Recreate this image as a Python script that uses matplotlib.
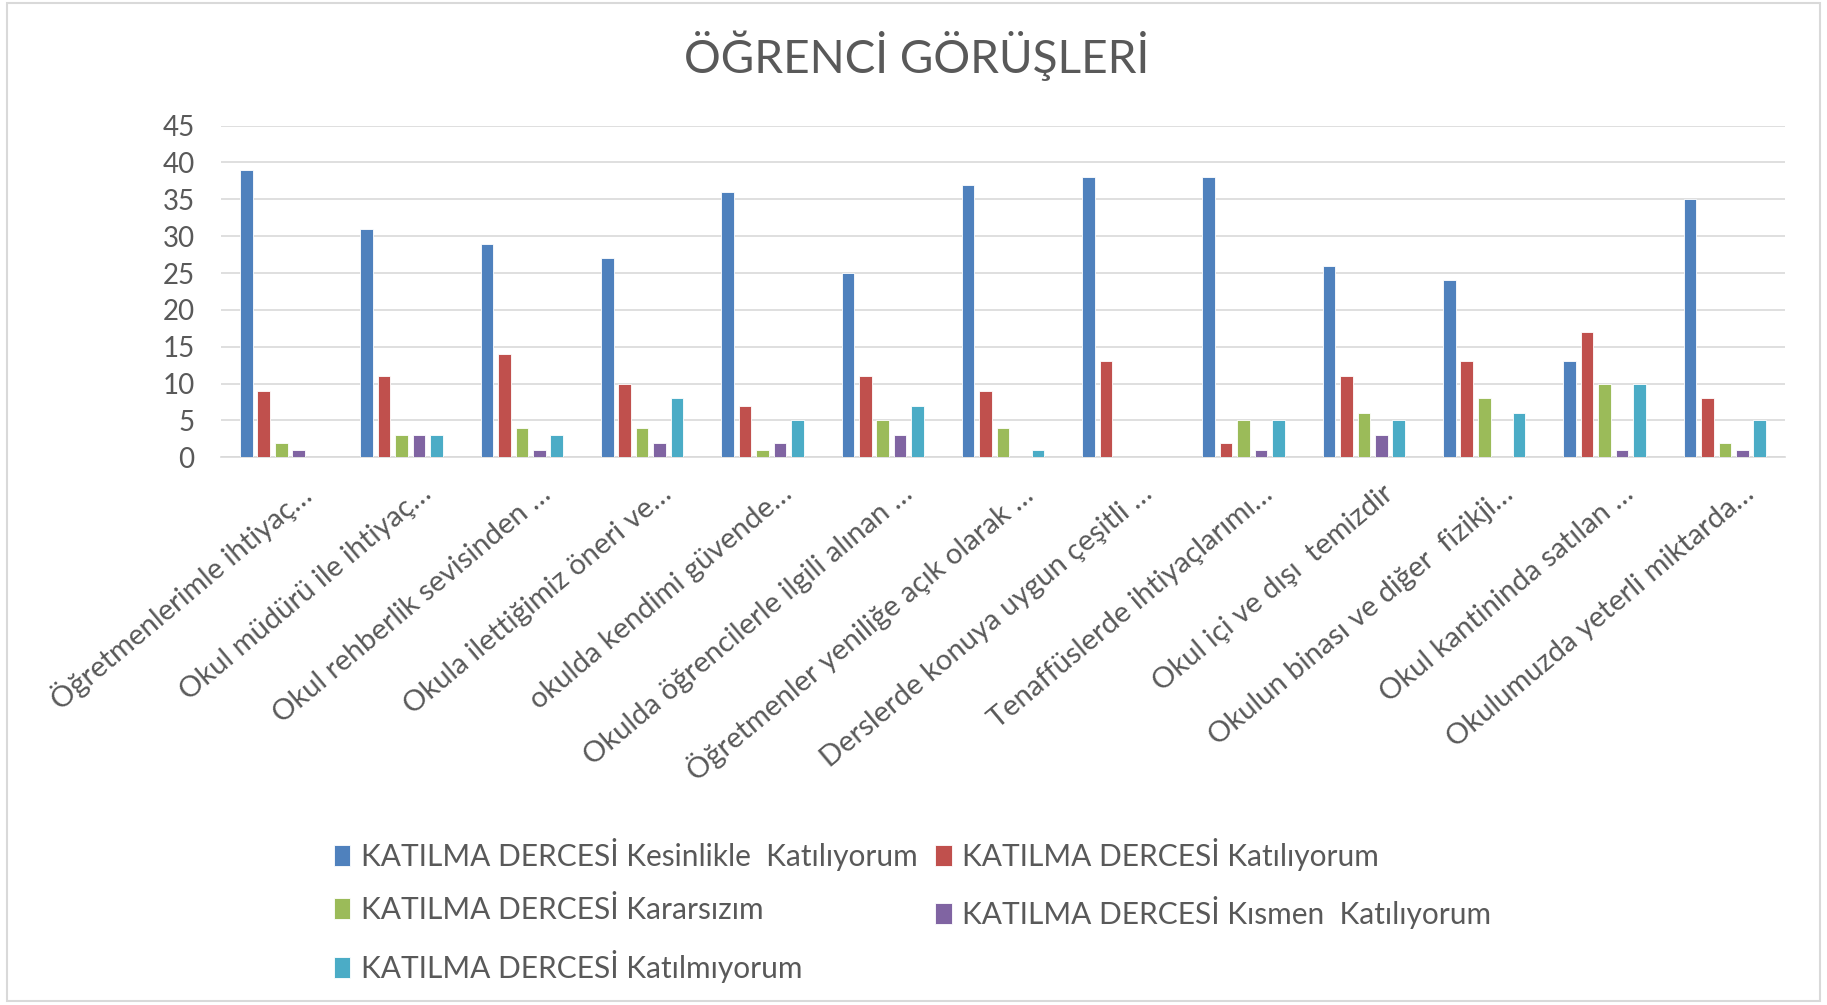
import numpy as np
import matplotlib
matplotlib.use("Agg")
import matplotlib.pyplot as plt
import matplotlib.transforms as mtransforms
from matplotlib.patches import Rectangle

plt.rcParams['font.family'] = ['Lato', 'DejaVu Sans']

# veriler
kategoriler = [
    "Öğretmenlerimle ihtiyaç…",
    "Okul müdürü ile ihtiyaç…",
    "Okul rehberlik sevisinden …",
    "Okula ilettiğimiz öneri ve…",
    "okulda kendimi güvende…",
    "Okulda öğrencilerle ilgili alınan …",
    "Öğretmenler yeniliğe açık olarak …",
    "Derslerde konuya uygun çeşitli …",
    "Tenaffüslerde ihtiyaçlarımı…",
    "Okul içi ve dışı  temizdir",
    "Okulun binası ve diğer  fizikji…",
    "Okul kantininda satılan …",
    "Okulumuzda yeterli miktarda…",
]
seri_adlari = [
    "KATILMA DERCESİ Kesinlikle  Katılıyorum",
    "KATILMA DERCESİ Katılıyorum",
    "KATILMA DERCESİ Kararsızım",
    "KATILMA DERCESİ Kısmen  Katılıyorum",
    "KATILMA DERCESİ Katılmıyorum",
]
kesinlikle = [39, 31, 29, 27, 36, 25, 37, 38, 38, 26, 24, 13, 35]
katiliyorum = [9, 11, 14, 10, 7, 11, 9, 13, 2, 11, 13, 17, 8]
kararsizim = [2, 3, 4, 4, 1, 5, 4, 0, 5, 6, 8, 10, 2]
kismen = [1, 3, 1, 2, 2, 3, 0, 0, 1, 3, 0, 1, 1]
katilmiyorum = [0, 3, 3, 8, 5, 7, 1, 0, 5, 5, 6, 10, 5]
seriler = [kesinlikle, katiliyorum, kararsizim, kismen, katilmiyorum]
renkler = ['#4F81BD', '#C0504D', '#9BBB59', '#8064A2', '#4BACC6']
yazi_rengi = '#595959'

fig = plt.figure(figsize=(18.27, 10.05), dpi=100)
ax = fig.add_axes([0.121, 0.545, 0.856, 0.330])

x = np.arange(len(kategoriler))
adim = 0.145
genislik = 0.105
cubuklar = []
for i, (deger, renk) in enumerate(zip(seriler, renkler)):
    b = ax.bar(x + (i - 2) * adim, deger, genislik, color=renk,
               edgecolor='white', linewidth=0.6, label=seri_adlari[i], zorder=3)
    cubuklar.append(b)

ax.set_xlim(-0.5, len(kategoriler) - 0.5)
ax.set_ylim(0, 45)
ax.set_yticks(range(0, 46, 5))
ax.yaxis.grid(True, color='#D9D9D9', linewidth=1.2, zorder=0)
ax.tick_params(axis='y', length=0, labelsize=20, labelcolor=yazi_rengi, pad=19)
ax.tick_params(axis='x', length=0, pad=0)
for s in ['top', 'right', 'left']:
    ax.spines[s].set_visible(False)
ax.spines['bottom'].set_color('#D9D9D9')
ax.spines['bottom'].set_linewidth(1.2)

ax.set_xticks(x)
ax.set_xticklabels(kategoriler, rotation=40, ha='right', va='center',
                   rotation_mode='anchor', fontsize=21, color=yazi_rengi)
kaydir = mtransforms.ScaledTranslation(0.26, 0.0, fig.dpi_scale_trans)
for lbl in ax.get_xticklabels():
    lbl.set_y(-0.10)
    lbl.set_transform(lbl.get_transform() + kaydir)

fig.text(0.502, 0.945, "ÖĞRENCİ GÖRÜŞLERİ", ha='center', va='center',
         fontsize=33, color=yazi_rengi)

# lejant: satir satir sirala
sira = [0, 2, 4, 1, 3]
leg = fig.legend([cubuklar[i] for i in sira], [seri_adlari[i] for i in sira],
                 ncol=2, loc='upper left', bbox_to_anchor=(0.168, 0.193),
                 frameon=False, fontsize=21.5, handlelength=0.55, handleheight=0.7,
                 handletextpad=0.35, columnspacing=0.6, labelspacing=0.85)
for t in leg.get_texts():
    t.set_color(yazi_rengi)

# cerceve
fig.patches.append(Rectangle((0.004, 0.004), 0.992, 0.993, transform=fig.transFigure,
                             fill=False, edgecolor='#D9D9D9', linewidth=1.5))

fig.savefig("out.png", dpi=100)
